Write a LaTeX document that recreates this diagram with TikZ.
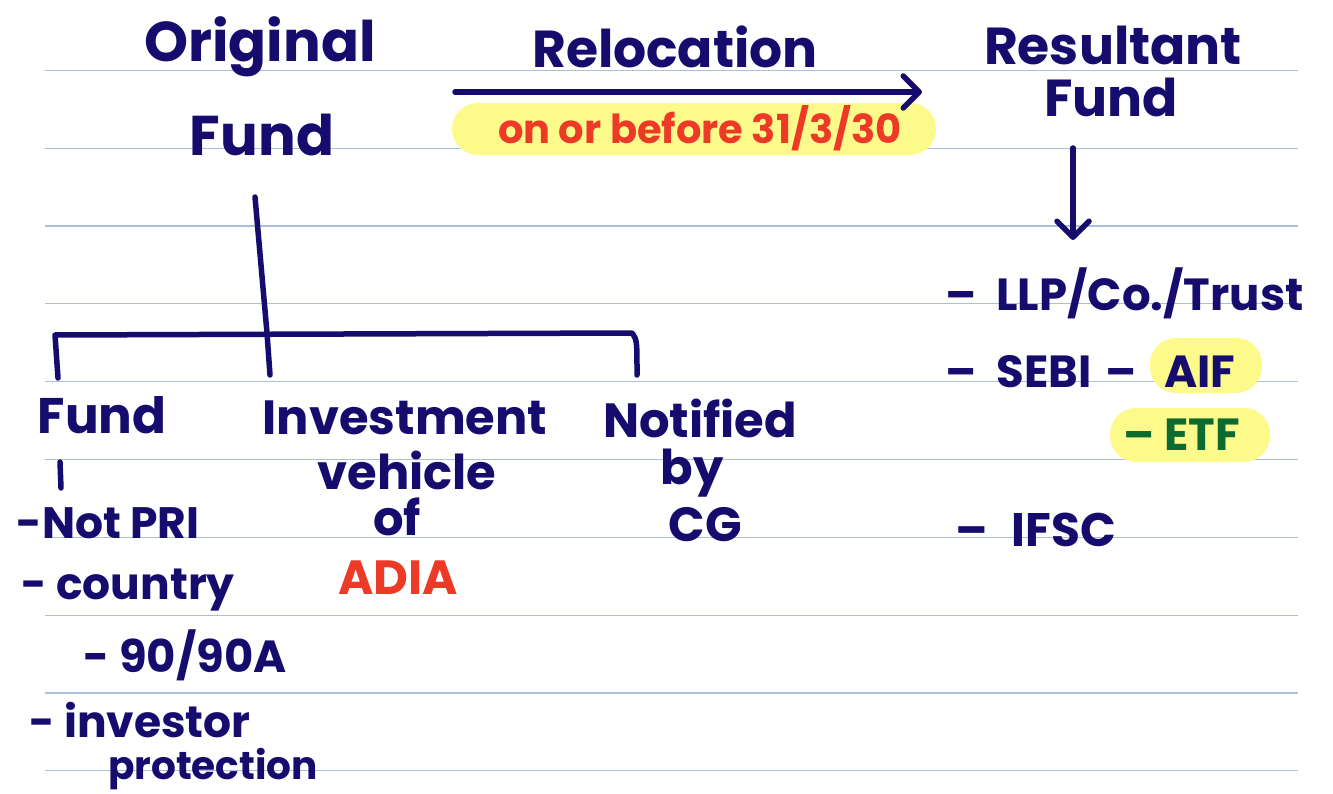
\documentclass[tikz,border=0pt]{standalone}
\usepackage{fontspec}
\setmainfont{Poppins}
\usetikzlibrary{arrows.meta}
\definecolor{ink}{RGB}{22,12,110}
\definecolor{redink}{RGB}{236,58,38}
\definecolor{greenink}{RGB}{12,108,48}
\definecolor{hl}{RGB}{253,250,140}
\definecolor{rulecol}{RGB}{172,190,220}
\begin{document}
\begin{tikzpicture}[x=1pt,y=-1pt,
  pen/.style={draw=ink,line width=5.5pt,line cap=round,line join=round},
  barb/.style={-{Straight Barb[length=16pt,width=32pt,line cap=round,line join=round]}},
  txt/.style={text=ink,inner sep=0pt,font=\fontsize{#1}{#1}\selectfont\bfseries},
  hlmark/.style={fill=hl,rounded corners=26pt}
]
% page and ruled lines
\fill[white] (0,0) rectangle (1333,794);
\useasboundingbox (0,0) rectangle (1333,794);
\foreach \k in {0,...,9}
  \draw[rulecol,line width=1.2pt] (45,70.5+77.8*\k) -- (1298,70.5+77.8*\k);

% highlighter marks
\fill[hlmark] (452,103) rectangle (936,155);
\fill[hlmark] (1150,338) rectangle (1262,393);
\fill[hlmark] (1110,408) rectangle (1270,462);

% headings
\node[txt=56] (orig) at (260,47) {Original};
\node[txt=56] (ofund) at (262,135) {Fund};
\node[txt=52] (reloc) at (675,47) {Relocation};
\node[txt=40,text=redink] (date) at (700,128) {on or before 31/3/30};
\node[txt=52] (res) at (1113,45) {Resultant};
\node[txt=52] (rfund) at (1111,97) {Fund};

% relocation arrow
\coordinate (arrS) at (455,92);
\coordinate (arrE) at (922,92);
\draw[pen,barb] (arrS) -- (arrE);

% resultant fund arrow
\coordinate (dTop) at (1073,148);
\coordinate (dBot) at (1073,240);
\draw[pen,barb] (dTop) -- (dBot);

% resultant fund forms
\node[txt=45,anchor=west] (llp) at (945,293) {–\hspace{20pt}LLP/Co./Trust};
\node[txt=45,anchor=west] (sebi) at (945,372) {–\hspace{20pt}SEBI\hspace{14pt}–};
\node[txt=45] (aif) at (1200,372) {AIF};
\node[txt=45,text=greenink] (etf) at (1182,435) {– ETF};
\node[txt=47,anchor=west] (ifsc) at (955,530) {–\hspace{24pt}IFSC};

% branching tree
\coordinate (tTop) at (255,197);
\coordinate (cM) at (267,333);
\coordinate (cL) at (55,335);
\coordinate (cR) at (632,333);
\coordinate (bL) at (58,378);
\coordinate (bM) at (270,375);
\coordinate (bR) at (637,375);
\draw[pen] (bL) -- (cL) -- (cR) .. controls (637,340) .. (bR);
\draw[pen] (tTop) -- (cM) -- (bM);

% first branch
\node[txt=50] (fund) at (102,415) {Fund};
\coordinate (tickA) at (60,462);
\coordinate (tickB) at (61,488);
\draw[pen] (tickA) -- (tickB);
\node[txt=44] (npri) at (108,523) {-Not PRI};
\node[txt=44] (ctry) at (128,590) {- country};
\node[txt=45] (ninety) at (185,655) {- 90/90A};
\node[txt=44] (inv) at (140,720) {- investor};
\node[txt=39] (prot) at (213,769) {protection};

% second branch
\node[txt=48] (ivest) at (405,418) {Investment};
\node[txt=48] (veh) at (407,470) {vehicle};
\node[txt=48] (of) at (397,517) {of};
\node[txt=48,text=redink] (adia) at (398,578) {ADIA};

% third branch
\node[txt=48] (notif) at (700,418) {Notified};
\node[txt=48] (by) at (692,473) {by};
\node[txt=48] (cg) at (705,525) {CG};
\end{tikzpicture}
\end{document}
